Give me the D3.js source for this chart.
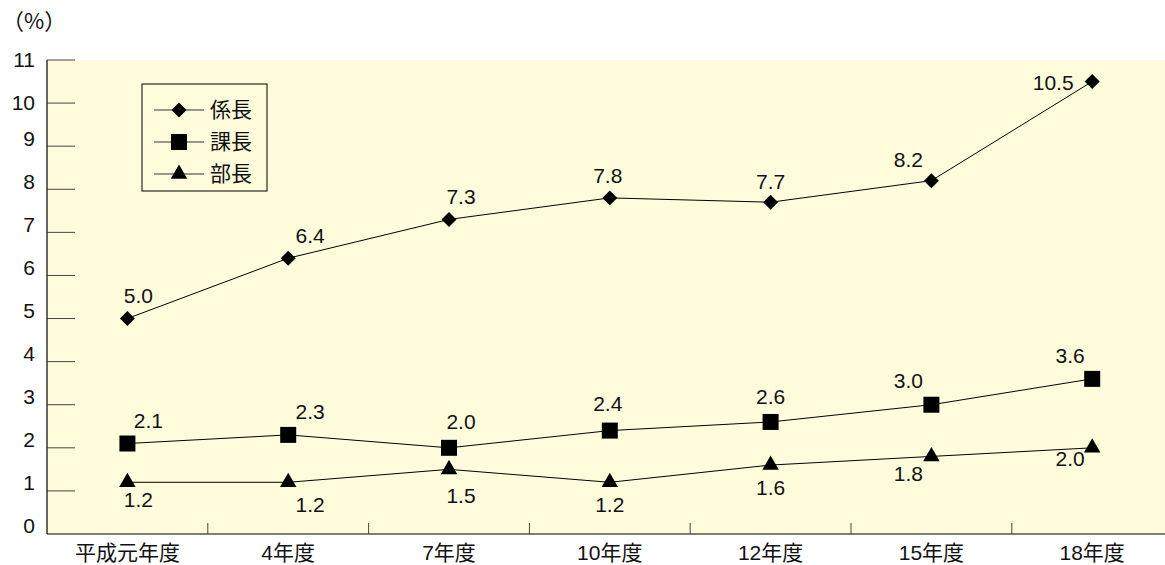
<!DOCTYPE html>
<html>
<head>
<meta charset="utf-8">
<script src="https://cdn.jsdelivr.net/npm/d3@7"></script>
<style>
  body { margin: 0; background: #fff; }
  svg { display: block; font-family: "Liberation Sans", Arial, "Noto Sans CJK JP", sans-serif; fill: #111; }
</style>
</head>
<body>
<svg id="chart" width="1165" height="565"></svg>
<script>
// data
const years = ['平成元年度', '4年度', '7年度', '10年度', '12年度', '15年度', '18年度'];
const kakaricho = [5.0, 6.4, 7.3, 7.8, 7.7, 8.2, 10.5];
const kacho = [2.1, 2.3, 2.0, 2.4, 2.6, 3.0, 3.6];
const bucho = [1.2, 1.2, 1.5, 1.2, 1.6, 1.8, 2.0];
const yTicks = [0, 1, 2, 3, 4, 5, 6, 7, 8, 9, 10, 11];

// label offsets per point (dx, dy from marker)
const offKakari = [[11, -23], [22, -23], [12, -23], [-2, -22], [0, -21], [-23, -21], [-39, 1]];
const offKacho = [[21, -23], [22, -23], [12, -26], [-2, -27], [0, -25], [-23, -24], [-22, -23]];
const offBucho = [[11, 17], [22, 22], [12, 26], [0, 22], [0, 23], [-23, 17], [-22, 11]];

const series = [
  { name: '係長', values: kakaricho, off: offKakari, symbol: d3.symbolSquare, size: 112, rot: 45 },
  { name: '課長', values: kacho, off: offKacho, symbol: d3.symbolSquare, size: 256, rot: 0 },
  { name: '部長', values: bucho, off: offBucho, symbol: d3.symbolTriangle, size: 118, rot: 0 }
];

const svg = d3.select('#chart');
const plotL = 47, plotT = 60, plotB = 534, bandW = 160.8;
const plotR = plotL + bandW * years.length;
const numSize = 21, cjkSize = 21;

const x = d3.scaleBand().domain(years).range([plotL, plotR]);
const y = d3.scaleLinear().domain([0, 11]).range([plotB, plotT]);

// plot background
svg.append('rect')
  .attr('x', plotL).attr('y', plotT)
  .attr('width', plotR - plotL).attr('height', plotB - plotT)
  .attr('fill', '#fffcdc');

// y axis
svg.append('line')
  .attr('x1', plotL).attr('x2', plotL).attr('y1', plotT).attr('y2', plotB)
  .attr('stroke', '#000').attr('stroke-width', 1.2);
svg.selectAll('line.ytick')
  .data(yTicks.filter(d => d > 0))
  .join('line')
  .attr('class', 'ytick')
  .attr('x1', plotL).attr('x2', plotL + 28)
  .attr('y1', d => y(d)).attr('y2', d => y(d))
  .attr('stroke', '#444').attr('stroke-width', 1);
svg.selectAll('text.ylab')
  .data(yTicks)
  .join('text')
  .attr('class', 'ylab')
  .attr('x', 35)
  .attr('y', d => y(d) - (d >= 10 ? 0 : 8))
  .attr('dy', '0.35em')
  .attr('text-anchor', 'end')
  .attr('font-size', numSize)
  .text(d => d);
svg.append('text')
  .attr('x', 2).attr('y', 29)
  .attr('font-size', 22)
  .attr('font-family', '"Noto Sans CJK JP", sans-serif')
  .text('（%）');

// x axis
svg.append('line')
  .attr('x1', plotL).attr('x2', plotR).attr('y1', plotB).attr('y2', plotB)
  .attr('stroke', '#000').attr('stroke-width', 1.2);
svg.selectAll('line.xtick')
  .data(years.slice(1))
  .join('line')
  .attr('class', 'xtick')
  .attr('x1', d => x(d)).attr('x2', d => x(d))
  .attr('y1', plotB).attr('y2', plotB - 11)
  .attr('stroke', '#444');
svg.selectAll('text.xlab')
  .data(years)
  .join('text')
  .attr('class', 'xlab')
  .attr('x', d => x(d) + x.bandwidth() / 2)
  .attr('y', 560)
  .attr('text-anchor', 'middle')
  .attr('font-size', cjkSize)
  .text(d => d);

// lines, markers, labels
const cx = i => x(years[i]) + x.bandwidth() / 2;
const line = d3.line().x((d, i) => cx(i)).y(d => y(d));

series.forEach(s => {
  svg.append('path')
    .attr('d', line(s.values))
    .attr('fill', 'none')
    .attr('stroke', '#000')
    .attr('stroke-width', 1);
  svg.selectAll(null)
    .data(s.values)
    .join('path')
    .attr('transform', (d, i) => `translate(${cx(i)},${y(d)}) rotate(${s.rot})`)
    .attr('d', d3.symbol().type(s.symbol).size(s.size))
    .attr('fill', '#000');
  svg.selectAll(null)
    .data(s.values)
    .join('text')
    .attr('x', (d, i) => cx(i) + s.off[i][0])
    .attr('y', (d, i) => y(d) + s.off[i][1])
    .attr('dy', '0.35em')
    .attr('text-anchor', 'middle')
    .attr('font-size', numSize)
    .text(d => d.toFixed(1));
});

// legend
const lg = svg.append('g');
lg.append('rect')
  .attr('x', 142).attr('y', 84).attr('width', 125).attr('height', 107)
  .attr('fill', '#fffcdc').attr('stroke', '#000').attr('stroke-width', 1);
series.forEach((s, i) => {
  const ly = 110 + i * 32;
  lg.append('line')
    .attr('x1', 154).attr('x2', 204).attr('y1', ly).attr('y2', ly)
    .attr('stroke', '#333');
  lg.append('path')
    .attr('transform', `translate(179,${ly}) rotate(${s.rot})`)
    .attr('d', d3.symbol().type(s.symbol).size(s.size))
    .attr('fill', '#000');
  lg.append('text')
    .attr('x', 210).attr('y', ly)
    .attr('dy', '0.35em')
    .attr('font-size', cjkSize)
    .text(s.name);
});
</script>
</body>
</html>
